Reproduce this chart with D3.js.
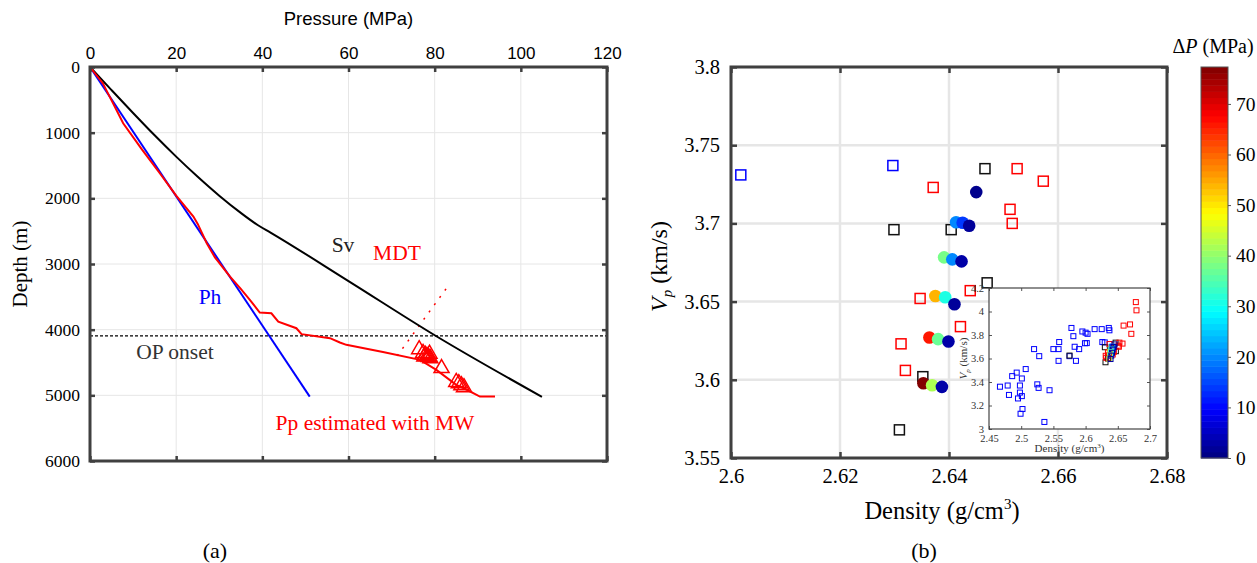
<!DOCTYPE html>
<html>
<head>
<meta charset="utf-8">
<script src="https://cdn.jsdelivr.net/npm/d3@7"></script>
<style>
  body { margin: 0; background: #fff; }
  text { font-family: "Liberation Serif", "Times New Roman", serif; }
</style>
</head>
<body>
<script>
// ---- panel (a) data: [pressure MPa, depth m]
var pressureTicks = [0, 20, 40, 60, 80, 100, 120];
var depthTicks = [0, 1000, 2000, 3000, 4000, 5000, 6000];
var svLine = [[0, 0], [5, 352], [10, 700], [15, 1040], [20, 1365], [25, 1672], [30, 1960], [35, 2222],
  [39, 2410], [42, 2525], [60, 3260], [80.4, 4100], [104.9, 5023]];
var phLine = [[0, 0], [51, 5020]];
var ppLine = [[0, 0], [3, 250], [7.7, 857], [12, 1250], [16.2, 1618], [20, 1960], [24, 2278], [25, 2390],
  [27.1, 2683], [29, 2900], [32.5, 3191], [35, 3380], [37.1, 3546], [39.4, 3739], [42.1, 3750],
  [43.7, 3877], [47.9, 3978], [49.1, 4068], [55.7, 4129], [58, 4196], [59.5, 4231], [68, 4340],
  [76.6, 4460], [80.4, 4612], [85, 4840], [87, 4900], [90.5, 5018], [94, 5018]];
var mdtPoints = [[76.4, 4282], [77.3, 4340], [77.8, 4365], [78.2, 4385], [78.6, 4400], [79.0, 4420],
  [77.6, 4395], [78.8, 4350], [81.6, 4570], [85.0, 4780], [85.6, 4800], [86.2, 4830], [86.8, 4860]];
var mdtTrend = [[71.3, 4400], [83.5, 3300]];
var opOnsetDepth = 4095;

// ---- panel (b) data: [density g/cm3, Vp km/s]
var densityTicks = [2.6, 2.62, 2.64, 2.66, 2.68];
var vpTicks = [3.55, 3.6, 3.65, 3.7, 3.75, 3.8];
var blueSquares = [[2.6018, 3.731], [2.6297, 3.737]];
var redSquares = [[2.6371, 3.723], [2.6525, 3.735], [2.6573, 3.727], [2.6512, 3.709], [2.6516, 3.700],
  [2.6439, 3.657], [2.6347, 3.652], [2.6421, 3.634], [2.6312, 3.623], [2.6320, 3.606]];
var blackSquares = [[2.6466, 3.735], [2.6299, 3.696], [2.6404, 3.696], [2.6470, 3.662],
  [2.6352, 3.602], [2.6309, 3.568]];
// [density, Vp, deltaP]
var dpCircles = [[2.6450, 3.720, 1], [2.6413, 3.7007, 20], [2.6425, 3.7004, 14], [2.6437, 3.6985, 2],
  [2.6391, 3.6783, 38], [2.6406, 3.6770, 20], [2.6423, 3.6757, 3],
  [2.6375, 3.6536, 54], [2.6393, 3.6528, 31], [2.6410, 3.6483, 2],
  [2.6364, 3.6270, 66], [2.6380, 3.6260, 37], [2.6399, 3.6245, 3],
  [2.6353, 3.5978, 77], [2.6369, 3.5965, 42], [2.6387, 3.5955, 3]];
var dpTicks = [0, 10, 20, 30, 40, 50, 60, 70];
var dpMax = 77.3;

// ---- inset data
var insetDensityTicks = [2.45, 2.5, 2.55, 2.6, 2.65, 2.7];
var insetVpTicks = [3, 3.2, 3.4, 3.6, 3.8, 4, 4.2];
var insetBlue = [[2.467, 3.36], [2.479, 3.37], [2.481, 3.29], [2.486, 3.45], [2.493, 3.48], [2.495, 3.26],
  [2.498, 3.31], [2.498, 3.37], [2.499, 3.13], [2.501, 3.43], [2.501, 3.28], [2.502, 3.17], [2.507, 3.51],
  [2.520, 3.68], [2.525, 3.38], [2.527, 3.35], [2.528, 3.62], [2.536, 3.06], [2.544, 3.33], [2.550, 3.68],
  [2.558, 3.68], [2.558, 3.58], [2.559, 3.74], [2.575, 3.62], [2.578, 3.86], [2.581, 3.79], [2.583, 3.70],
  [2.585, 3.58], [2.590, 3.68], [2.595, 3.83], [2.600, 3.82], [2.603, 3.81], [2.599, 3.73], [2.614, 3.85],
  [2.625, 3.85], [2.636, 3.86], [2.637, 3.84], [2.626, 3.74]];
var insetRed = [[2.678, 4.08], [2.679, 4.01], [2.669, 3.89], [2.659, 3.88], [2.671, 3.81]];
var insetBlack = [[2.575, 3.625]];

(function() {
    var w = 1257, h = 563;
    var frameColor = '#404040', gridColor = '#e6e6e6';
    var serif = '"Liberation Serif", "Times New Roman", serif';
    var sans = '"Liberation Sans", Arial, sans-serif';
    var svg = d3.select('body').append('svg').attr('width', w).attr('height', h);

    // jet colormap like matlab
    function jet(t) {
        var c = function(v) { return Math.max(0, Math.min(1, v)); };
        var r = c(1.5 - Math.abs(4 * t - 3)), g = c(1.5 - Math.abs(4 * t - 2)), b = c(1.5 - Math.abs(4 * t - 1));
        return d3.rgb(r * 255, g * 255, b * 255).formatHex();
    }

    function styler(size, font) {
        return function(g) {
            g.select('.domain').remove();
            g.selectAll('.tick line').attr('stroke', frameColor).attr('stroke-width', 2.5);
            g.selectAll('.tick text').attr('font-size', size).attr('fill', '#000')
                .style('font-family', font || serif);
        };
    }

    // ================= panel (a)
    var xA = d3.scaleLinear().domain([0, 120]).range([90, 607]);
    var yA = d3.scaleLinear().domain([0, 6000]).range([67, 461]);
    var a = svg.append('g');

    a.selectAll('.gx').data(pressureTicks).enter().append('line')
        .attr('x1', xA).attr('x2', xA).attr('y1', yA(0)).attr('y2', yA(6000))
        .attr('stroke', gridColor).attr('stroke-width', 1);
    a.selectAll('.gy').data(depthTicks).enter().append('line')
        .attr('y1', yA).attr('y2', yA).attr('x1', xA(0)).attr('x2', xA(120))
        .attr('stroke', gridColor).attr('stroke-width', 1);

    var lineA = d3.line().x(function(d) { return xA(d[0]); }).y(function(d) { return yA(d[1]); });

    a.append('line').attr('x1', xA(0)).attr('x2', xA(120))
        .attr('y1', yA(opOnsetDepth)).attr('y2', yA(opOnsetDepth))
        .attr('stroke', '#000').attr('stroke-width', 1.2).attr('stroke-dasharray', '3,2');
    a.append('path').datum(mdtTrend).attr('d', lineA).attr('fill', 'none')
        .attr('stroke', 'red').attr('stroke-width', 1.5).attr('stroke-dasharray', '2,7');
    a.append('path').datum(svLine).attr('d', lineA.curve(d3.curveMonotoneX)).attr('fill', 'none')
        .attr('stroke', '#000').attr('stroke-width', 2);
    lineA.curve(d3.curveLinear);
    a.append('path').datum(phLine).attr('d', lineA).attr('fill', 'none')
        .attr('stroke', 'blue').attr('stroke-width', 2);
    a.append('path').datum(ppLine).attr('d', lineA).attr('fill', 'none')
        .attr('stroke', 'red').attr('stroke-width', 2);
    a.selectAll('.mdt').data(mdtPoints).enter().append('path')
        .attr('d', 'M0,-7.5L7.5,5.5L-7.5,5.5Z')
        .attr('transform', function(d) { return 'translate(' + xA(d[0]) + ',' + yA(d[1]) + ')'; })
        .attr('fill', 'none').attr('stroke', 'red').attr('stroke-width', 1.5);

    a.append('g').attr('transform', 'translate(0,' + yA(0) + ')')
        .call(d3.axisTop(xA).tickValues(pressureTicks).tickSize(-5).tickPadding(8).tickFormat(String))
        .call(styler(17, sans));
    a.append('g').attr('transform', 'translate(0,' + yA(6000) + ')')
        .call(d3.axisBottom(xA).tickValues(pressureTicks).tickSize(-5).tickFormat(''))
        .call(styler(17));
    a.append('g').attr('transform', 'translate(' + xA(0) + ',0)')
        .call(d3.axisLeft(yA).tickValues(depthTicks).tickSize(-5).tickPadding(10).tickFormat(String))
        .call(styler(17.5));
    a.append('g').attr('transform', 'translate(' + xA(120) + ',0)')
        .call(d3.axisRight(yA).tickValues(depthTicks).tickSize(-5).tickFormat(''))
        .call(styler(17));
    a.append('rect').attr('x', xA(0)).attr('y', yA(0))
        .attr('width', xA(120) - xA(0)).attr('height', yA(6000) - yA(0))
        .attr('fill', 'none').attr('stroke', frameColor).attr('stroke-width', 3);

    a.append('text').attr('x', (xA(0) + xA(120)) / 2).attr('y', 25).attr('text-anchor', 'middle')
        .style('font-family', sans).attr('font-size', 18.5).text('Pressure (MPa)');
    a.append('text').attr('transform', 'translate(27,' + ((yA(0) + yA(6000)) / 2) + ') rotate(-90)')
        .attr('text-anchor', 'middle').attr('font-size', 21).text('Depth (m)');
    var labelsA = [['Sv', 343, 252, '#222'], ['MDT', 397, 260, 'red'], ['Ph', 210, 304, 'blue'],
        ['OP onset', 175, 359, '#333'], ['Pp estimated with MW', 375, 430, 'red']];
    a.selectAll('.lbl').data(labelsA).enter().append('text')
        .attr('x', function(d) { return d[1]; }).attr('y', function(d) { return d[2]; })
        .attr('text-anchor', 'middle').attr('font-size', 21.5)
        .attr('fill', function(d) { return d[3]; }).text(function(d) { return d[0]; });
    svg.append('text').attr('x', 215).attr('y', 558).attr('text-anchor', 'middle')
        .attr('font-size', 22).text('(a)');

    // ================= panel (b)
    var xB = d3.scaleLinear().domain([2.6, 2.68]).range([731, 1167]);
    var yB = d3.scaleLinear().domain([3.55, 3.8]).range([458, 67]);
    var b = svg.append('g');

    b.selectAll('.gx').data(densityTicks).enter().append('line')
        .attr('x1', xB).attr('x2', xB).attr('y1', yB(3.55)).attr('y2', yB(3.8))
        .attr('stroke', gridColor).attr('stroke-width', 2.5);
    b.selectAll('.gy').data(vpTicks).enter().append('line')
        .attr('y1', yB).attr('y2', yB).attr('x1', xB(2.6)).attr('x2', xB(2.68))
        .attr('stroke', gridColor).attr('stroke-width', 2.5);

    function squares(g, data, color, sx, sy, s, sw) {
        g.selectAll(null).data(data).enter().append('rect')
            .attr('x', function(d) { return sx(d[0]) - s / 2; })
            .attr('y', function(d) { return sy(d[1]) - s / 2; })
            .attr('width', s).attr('height', s)
            .attr('fill', 'none').attr('stroke', color).attr('stroke-width', sw);
    }
    squares(b, blueSquares, 'blue', xB, yB, 10, 1.5);
    squares(b, redSquares, 'red', xB, yB, 10, 1.5);
    squares(b, blackSquares, '#111', xB, yB, 10, 1.5);
    b.selectAll('.dp').data(dpCircles).enter().append('circle')
        .attr('cx', function(d) { return xB(d[0]); }).attr('cy', function(d) { return yB(d[1]); })
        .attr('r', 6.3).attr('fill', function(d) { return jet(d[2] / dpMax); });

    b.append('g').attr('transform', 'translate(0,' + yB(3.55) + ')')
        .call(d3.axisBottom(xB).tickValues(densityTicks).tickSize(-6).tickPadding(10).tickFormat(String))
        .call(styler(20.5));
    b.append('g').attr('transform', 'translate(0,' + yB(3.8) + ')')
        .call(d3.axisTop(xB).tickValues(densityTicks).tickSize(-6).tickFormat(''))
        .call(styler(20));
    b.append('g').attr('transform', 'translate(' + xB(2.6) + ',0)')
        .call(d3.axisLeft(yB).tickValues(vpTicks).tickSize(-6).tickPadding(11).tickFormat(String))
        .call(styler(20.5));
    b.append('g').attr('transform', 'translate(' + xB(2.68) + ',0)')
        .call(d3.axisRight(yB).tickValues(vpTicks).tickSize(-6).tickFormat(''))
        .call(styler(20));

    // ---- inset
    var xI = d3.scaleLinear().domain([2.45, 2.7]).range([989, 1150]);
    var yI = d3.scaleLinear().domain([3, 4.2]).range([429, 288]);
    var ins = svg.append('g');
    ins.append('rect').attr('x', xI(2.45)).attr('y', yI(4.2))
        .attr('width', xI(2.7) - xI(2.45)).attr('height', yI(3) - yI(4.2)).attr('fill', '#fff');
    squares(ins, insetBlue, 'blue', xI, yI, 5, 1);
    squares(ins, blueSquares, 'blue', xI, yI, 5, 1);
    squares(ins, insetBlack, '#111', xI, yI, 5, 1);
    squares(ins, blackSquares, '#111', xI, yI, 5, 1);
    squares(ins, insetRed, 'red', xI, yI, 5, 1);
    squares(ins, redSquares, 'red', xI, yI, 5, 1);
    ins.selectAll('.dpi').data(dpCircles).enter().append('rect')
        .attr('x', function(d) { return xI(d[0]) - 2.5; }).attr('y', function(d) { return yI(d[1]) - 2.5; })
        .attr('width', 5).attr('height', 5).attr('fill', 'none')
        .attr('stroke', function(d) { return jet(d[2] / dpMax); }).attr('stroke-width', 1);

    function styleInset(g) {
        g.select('.domain').remove();
        g.selectAll('.tick line').attr('stroke', '#555').attr('stroke-width', 1);
        g.selectAll('.tick text').attr('font-size', 10.5).attr('fill', '#333')
            .style('font-family', serif);
    }
    ins.append('g').attr('transform', 'translate(0,' + yI(3) + ')')
        .call(d3.axisBottom(xI).tickValues(insetDensityTicks).tickSize(-3).tickPadding(6).tickFormat(String))
        .call(styleInset);
    ins.append('g').attr('transform', 'translate(0,' + yI(4.2) + ')')
        .call(d3.axisTop(xI).tickValues(insetDensityTicks).tickSize(-3).tickFormat(''))
        .call(styleInset);
    ins.append('g').attr('transform', 'translate(' + xI(2.45) + ',0)')
        .call(d3.axisLeft(yI).tickValues(insetVpTicks).tickSize(-3).tickPadding(5).tickFormat(String))
        .call(styleInset);
    ins.append('g').attr('transform', 'translate(' + xI(2.7) + ',0)')
        .call(d3.axisRight(yI).tickValues(insetVpTicks).tickSize(-3).tickFormat(''))
        .call(styleInset);
    ins.append('rect').attr('x', xI(2.45)).attr('y', yI(4.2))
        .attr('width', xI(2.7) - xI(2.45)).attr('height', yI(3) - yI(4.2))
        .attr('fill', 'none').attr('stroke', '#444').attr('stroke-width', 1.2);
    var ixl = ins.append('text').attr('x', (xI(2.45) + xI(2.7)) / 2).attr('y', 452)
        .attr('text-anchor', 'middle').attr('font-size', 11).attr('fill', '#333');
    ixl.append('tspan').text('Density (g/cm');
    ixl.append('tspan').attr('dy', -4).attr('font-size', 7).text('3');
    ixl.append('tspan').attr('dy', 4).text(')');
    var iyl = ins.append('text').attr('transform', 'translate(967,' + ((yI(3) + yI(4.2)) / 2) + ') rotate(-90)')
        .attr('text-anchor', 'middle').attr('font-size', 11).attr('fill', '#333');
    iyl.append('tspan').attr('font-style', 'italic').text('V');
    iyl.append('tspan').attr('font-style', 'italic').attr('dy', 3).attr('font-size', 7).text('p');
    iyl.append('tspan').attr('dy', -3).text(' (km/s)');

    b.append('rect').attr('x', xB(2.6)).attr('y', yB(3.8))
        .attr('width', xB(2.68) - xB(2.6)).attr('height', yB(3.55) - yB(3.8))
        .attr('fill', 'none').attr('stroke', frameColor).attr('stroke-width', 3);

    var xl = b.append('text').attr('x', (xB(2.6) + xB(2.68)) / 2 - 7).attr('y', 519)
        .attr('text-anchor', 'middle').attr('font-size', 24.5);
    xl.append('tspan').text('Density (g/cm');
    xl.append('tspan').attr('dy', -10).attr('font-size', 15).text('3');
    xl.append('tspan').attr('dy', 10).text(')');
    var yl = b.append('text').attr('transform', 'translate(667,' + ((yB(3.55) + yB(3.8)) / 2 + 4) + ') rotate(-90)')
        .attr('text-anchor', 'middle').attr('font-size', 24);
    yl.append('tspan').attr('font-style', 'italic').text('V');
    yl.append('tspan').attr('font-style', 'italic').attr('dy', 5).attr('font-size', 15).text('p');
    yl.append('tspan').attr('dy', -5).text(' (km/s)');
    svg.append('text').attr('x', 924).attr('y', 558).attr('text-anchor', 'middle')
        .attr('font-size', 22).text('(b)');

    // ---- colorbar
    var cY = d3.scaleLinear().domain([0, dpMax]).range([458, 67]);
    var cx0 = 1201, cw = 27, nBands = 64;
    var bands = d3.range(nBands);
    svg.selectAll('.band').data(bands).enter().append('rect')
        .attr('x', cx0).attr('width', cw)
        .attr('y', function(i) { return cY((i + 1) * dpMax / nBands); })
        .attr('height', function(i) { return cY(i * dpMax / nBands) - cY((i + 1) * dpMax / nBands) + 0.5; })
        .attr('fill', function(i) { return jet((i + 0.5) / nBands); });
    svg.append('rect').attr('x', cx0).attr('y', cY(dpMax)).attr('width', cw)
        .attr('height', cY(0) - cY(dpMax)).attr('fill', 'none').attr('stroke', '#555').attr('stroke-width', 1);
    svg.append('g').attr('transform', 'translate(' + (cx0 + cw) + ',0)')
        .call(d3.axisRight(cY).tickValues(dpTicks).tickSize(3).tickPadding(5).tickFormat(String))
        .call(function(g) {
            g.select('.domain').remove();
            g.selectAll('.tick line').attr('stroke', '#555');
            g.selectAll('.tick text').attr('font-size', 19.5).attr('fill', '#000')
                .style('font-family', serif);
        });
    var ct = svg.append('text').attr('x', 1213).attr('y', 53).attr('text-anchor', 'middle').attr('font-size', 20);
    ct.append('tspan').text('\u0394');
    ct.append('tspan').attr('font-style', 'italic').text('P');
    ct.append('tspan').text(' (MPa)');
})();
</script>
</body>
</html>
